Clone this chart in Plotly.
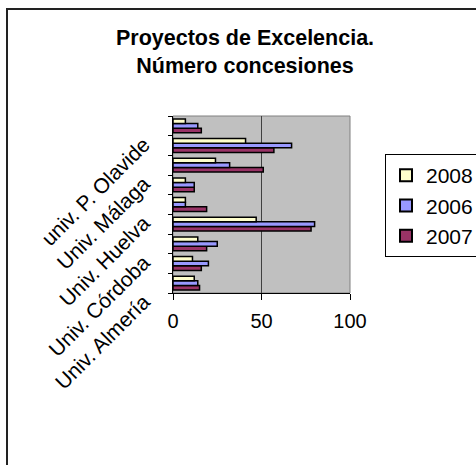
import plotly.graph_objects as go

categories = ["Univ. Almería", "Univ. Cádiz", "Univ. Córdoba", "Univ. Granada",
              "Univ. Huelva", "Univ. Jaén", "Univ. Málaga", "Univ. Sevilla",
              "univ. P. Olavide"]
shown_labels = ["Univ. Almería", "", "Univ. Córdoba", "", "Univ. Huelva", "",
                "Univ. Málaga", "", "univ. P. Olavide"]
v2008 = [12, 11, 14, 47, 7, 7, 24, 41, 7]
v2006 = [14, 20, 25, 80, 7, 12, 32, 67, 14]
v2007 = [15, 16, 19, 78, 19, 12, 51, 57, 16]
x_ticks = [0, 50, 100]

L, R, T, B = 173, 350, 116, 293
W, H = 476, 465
pw, ph = R - L, B - T

fig = go.Figure()
for name, vals, col in [("2007", v2007, "#993366"),
                        ("2006", v2006, "#9999FF"),
                        ("2008", v2008, "#FFFFCC")]:
    fig.add_trace(go.Bar(y=categories, x=vals, name=name, orientation="h",
                         marker=dict(color=col, line=dict(color="black", width=1.5))))

fig.update_layout(
    width=W, height=H,
    margin=dict(l=L, r=W - R, t=T, b=H - B, autoexpand=False),
    paper_bgcolor="white", plot_bgcolor="#C0C0C0",
    barmode="group", bargap=0.3, bargroupgap=0,
    font=dict(family="Liberation Sans, Arial", size=16, color="black"),
    title=dict(text="<b>Proyectos de Excelencia.<br>Número concesiones</b>",
               x=245 / W, xanchor="center", y=1 - 45 / H, yanchor="middle",
               font=dict(size=21.5)),
    legend=dict(x=(385 - L) / pw, y=(B - 154) / ph, xanchor="left", yanchor="top",
                bordercolor="black", borderwidth=1, bgcolor="white",
                traceorder="reversed", font=dict(size=21),
                itemsizing="constant", tracegroupgap=0),
    showlegend=True,
)
fig.update_xaxes(range=[0, 100], tickvals=x_ticks, ticks="outside", ticklen=6,
                 tickcolor="black", showline=True, linecolor="black", linewidth=1,
                 showgrid=True, gridcolor="#404040", gridwidth=1, zeroline=False,
                 ticklabelstandoff=4,
                 tickfont=dict(size=20), automargin=False, fixedrange=True)
fig.update_yaxes(categoryorder="array", categoryarray=categories,
                 tickvals=categories, ticktext=shown_labels, tickson="boundaries",
                 ticks="outside", ticklen=4, tickcolor="black", tickangle=-45,
                 ticklabelshift=16, ticklabelstandoff=24,
                 showline=True, linecolor="black", linewidth=1, showgrid=False,
                 tickfont=dict(size=21), automargin=False, fixedrange=True)

fig.add_shape(type="rect", xref="paper", yref="paper", x0=0, x1=1, y0=0, y1=1,
              line=dict(color="#808080", width=1), layer="below")
fig.add_shape(type="rect", xref="paper", yref="paper",
              x0=(7 - L) / pw, x1=(W + 5 - L) / pw,
              y0=(B - (H + 5)) / ph, y1=(B - 9) / ph,
              line=dict(color="#222222", width=2), layer="above")

fig.write_html("out.html", config={"displayModeBar": False},
               post_script="document.body.style.margin='0px';")
